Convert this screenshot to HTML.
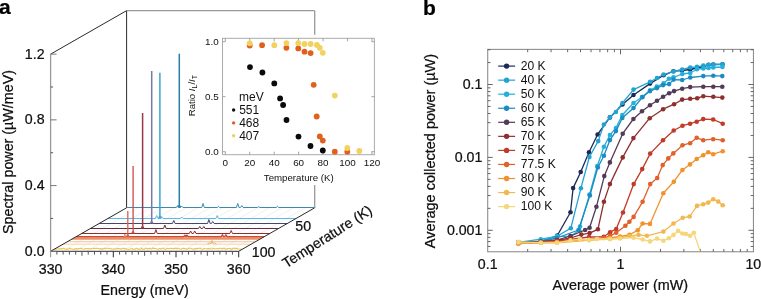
<!DOCTYPE html>
<html><head><meta charset="utf-8"><style>
html,body{margin:0;padding:0;background:#fff;}
svg{display:block;will-change:transform;}
text{font-family:"Liberation Sans",sans-serif;}
.h{stroke:#000;stroke-width:0.22px;}
</style></head><body>
<svg width="761" height="299" viewBox="0 0 761 299">
<rect width="761" height="299" fill="#fff"/>
<line x1="50.60" y1="251.30" x2="126.60" y2="207.80" stroke="#dfe6ee" stroke-width="0.6" />
<line x1="62.51" y1="251.30" x2="138.51" y2="207.80" stroke="#dfe6ee" stroke-width="0.6" />
<line x1="74.43" y1="251.30" x2="150.43" y2="207.80" stroke="#dfe6ee" stroke-width="0.6" />
<line x1="86.34" y1="251.30" x2="162.34" y2="207.80" stroke="#dfe6ee" stroke-width="0.6" />
<line x1="98.25" y1="251.30" x2="174.25" y2="207.80" stroke="#dfe6ee" stroke-width="0.6" />
<line x1="110.16" y1="251.30" x2="186.16" y2="207.80" stroke="#dfe6ee" stroke-width="0.6" />
<line x1="122.08" y1="251.30" x2="198.08" y2="207.80" stroke="#dfe6ee" stroke-width="0.6" />
<line x1="133.99" y1="251.30" x2="209.99" y2="207.80" stroke="#dfe6ee" stroke-width="0.6" />
<line x1="145.90" y1="251.30" x2="221.90" y2="207.80" stroke="#dfe6ee" stroke-width="0.6" />
<line x1="157.82" y1="251.30" x2="233.82" y2="207.80" stroke="#dfe6ee" stroke-width="0.6" />
<line x1="169.73" y1="251.30" x2="245.73" y2="207.80" stroke="#dfe6ee" stroke-width="0.6" />
<line x1="181.64" y1="251.30" x2="257.64" y2="207.80" stroke="#dfe6ee" stroke-width="0.6" />
<line x1="193.56" y1="251.30" x2="269.56" y2="207.80" stroke="#dfe6ee" stroke-width="0.6" />
<line x1="205.47" y1="251.30" x2="281.47" y2="207.80" stroke="#dfe6ee" stroke-width="0.6" />
<line x1="217.38" y1="251.30" x2="293.38" y2="207.80" stroke="#dfe6ee" stroke-width="0.6" />
<line x1="229.29" y1="251.30" x2="305.29" y2="207.80" stroke="#dfe6ee" stroke-width="0.6" />
<polyline points="127.12,207.50 176.32,207.50 177.62,205.50 178.92,207.50 180.32,207.50 181.62,206.00 182.92,207.50 201.72,207.50 203.02,203.50 204.32,207.50 217.22,207.50 218.52,206.50 219.82,207.50 236.42,207.50 237.72,203.50 239.02,207.50 240.52,207.50 241.82,205.50 243.12,207.50 257.42,207.50 258.72,206.70 260.02,207.50 276.12,207.50 277.42,206.30 278.72,207.50 315.22,207.50" fill="none" stroke="#3f88ad" stroke-width="1.0" stroke-linejoin="round" />
<path d="M178.10,207.50 L179.30,205.00 L179.30,53.70 M179.30,205.00 L180.50,207.50" fill="none" stroke="#2a7ca4" stroke-width="1.5" stroke-linejoin="round"/>
<polyline points="107.91,218.50 155.41,218.50 156.71,215.50 158.01,218.50 160.41,218.50 161.71,216.50 163.01,218.50 180.51,218.50 181.81,217.00 183.11,218.50 215.91,218.50 217.21,215.50 218.51,218.50 296.01,218.50" fill="none" stroke="#5cbae0" stroke-width="1.0" stroke-linejoin="round" />
<path d="M158.70,218.50 L159.90,216.00 L159.90,72.70 M159.90,216.00 L161.10,218.50" fill="none" stroke="#38a6d2" stroke-width="1.5" stroke-linejoin="round"/>
<polyline points="99.17,223.50 172.47,223.50 173.77,220.50 175.07,223.50 207.57,223.50 208.87,219.50 210.17,223.50 211.47,223.50 212.77,221.50 214.07,223.50 287.27,223.50" fill="none" stroke="#46466e" stroke-width="1.0" stroke-linejoin="round" />
<path d="M150.50,223.50 L151.70,221.00 L151.70,71.10 M151.70,221.00 L152.90,223.50" fill="none" stroke="#7878a0" stroke-width="1.5" stroke-linejoin="round"/>
<polyline points="90.43,228.50 163.53,228.50 164.83,225.00 166.13,228.50 198.43,228.50 199.73,226.50 201.03,228.50 202.53,228.50 203.83,226.50 205.13,228.50 278.53,228.50" fill="none" stroke="#6c2a42" stroke-width="1.0" stroke-linejoin="round" />
<path d="M141.40,228.50 L142.60,226.00 L142.60,113.00 M142.60,226.00 L143.80,228.50" fill="none" stroke="#983848" stroke-width="1.5" stroke-linejoin="round"/>
<polyline points="81.70,233.50 154.60,233.50 155.90,229.50 157.20,233.50 189.30,233.50 190.60,231.00 191.90,233.50 193.40,233.50 194.70,231.00 196.00,233.50 229.90,233.50 231.20,230.50 232.50,233.50 269.80,233.50" fill="none" stroke="#922e2e" stroke-width="1.0" stroke-linejoin="round" />
<path d="M131.90,233.50 L133.10,231.00 L133.10,166.00 M133.10,231.00 L134.30,233.50" fill="none" stroke="#d04848" stroke-width="1.3" stroke-linejoin="round"/>
<polyline points="75.93,236.80 183.63,236.80 184.93,235.30 186.23,236.80 185.63,236.80 186.93,235.30 188.23,236.80 221.13,236.80 222.43,234.80 223.73,236.80 224.63,236.80 225.93,234.80 227.23,236.80 264.03,236.80" fill="none" stroke="#d24a30" stroke-width="1.5" stroke-linejoin="round" />
<path d="M126.60,236.80 L127.80,234.30 L127.80,211.00 M127.80,234.30 L129.00,236.80" fill="none" stroke="#e06050" stroke-width="1.3" stroke-linejoin="round"/>
<polyline points="73.66,238.10 261.76,238.10" fill="none" stroke="#e06a40" stroke-width="1.4" stroke-linejoin="round" />
<path d="M123.66,238.10 L124.86,235.60 L124.86,234.10 M124.86,235.60 L126.06,238.10" fill="none" stroke="#e08060" stroke-width="1.3" stroke-linejoin="round"/>
<polyline points="71.39,239.40 259.49,239.40" fill="none" stroke="#f0a47a" stroke-width="1.0" stroke-linejoin="round" />
<polyline points="67.20,241.80 255.30,241.80" fill="none" stroke="#f2c094" stroke-width="1.1" stroke-linejoin="round" />
<polyline points="63.00,244.20 209.70,244.20 211.00,242.20 212.30,244.20 251.10,244.20" fill="none" stroke="#f4d4a6" stroke-width="1.0" stroke-linejoin="round" />
<polyline points="53.92,249.40 54.98,249.20 56.30,249.31 57.53,248.92 58.37,248.74 59.20,248.84 60.06,249.28 61.20,248.33 62.10,249.11 63.40,248.17 64.66,248.88 66.24,249.34 67.73,249.02 68.65,249.25 69.69,248.34 70.64,248.64 71.95,248.92 73.19,249.32 74.03,249.13 75.38,248.84 76.43,248.64 77.59,249.01 79.03,248.49 80.02,248.65 81.24,248.26 82.63,249.03 84.21,249.25 85.35,248.42 86.27,248.76 87.10,248.53 88.51,248.66 90.01,248.99 91.37,248.63 92.63,248.81 94.10,248.17 95.28,248.54 96.13,248.49 97.45,248.11 98.91,249.03 100.01,248.53 100.83,248.80 101.77,249.25 102.61,248.40 103.52,249.08 104.63,248.27 105.49,248.82 106.73,248.25 108.19,248.28 109.21,248.86 110.30,248.25 111.87,249.20 112.81,249.10 113.79,248.77 115.06,249.06 115.87,248.86 116.96,248.66 118.53,248.50 119.74,248.60 121.08,249.33 122.60,248.39 124.10,248.36 125.21,248.88 126.09,248.58 126.94,249.31 127.91,249.19 128.98,249.33 129.78,249.20 130.67,248.93 131.49,248.26 132.78,249.21 133.78,248.95 134.87,249.24 136.35,248.11 137.52,248.77 138.39,249.27 139.46,249.06 140.93,249.19 141.75,248.16 142.97,249.21 144.20,249.36 145.43,248.13 146.92,248.49 147.93,248.92 148.86,248.40 150.09,248.39 151.15,249.11 152.60,248.12 154.08,248.35 155.53,248.44 156.52,248.73 157.60,249.36 158.42,249.04 159.43,248.50 161.00,248.82 162.55,248.12 164.11,248.93 165.09,249.11 166.04,249.13 167.34,248.23 168.81,248.78 170.14,248.36 171.00,248.54 172.53,248.38 173.93,248.78 174.88,248.37 175.94,248.36 177.52,248.89 178.64,248.17 180.02,249.18 180.92,249.20 182.45,248.35 183.36,248.33 184.95,248.55 186.03,248.69 186.93,249.38 188.51,248.56 189.73,248.19 190.88,248.27 192.34,249.13 193.34,249.02 194.33,248.64 195.34,248.86 196.24,248.22 197.33,248.80 198.59,248.22 199.73,248.21 200.93,248.71 202.15,249.38 203.30,249.16 204.11,248.36 205.04,248.78 206.42,248.68 207.48,248.73 208.73,248.38 209.61,248.67 210.61,249.04 212.03,248.74 213.28,248.41 214.81,248.82 216.10,248.74 217.31,248.50 218.47,248.71 219.65,248.18 221.01,248.26 222.57,249.06 223.81,248.17 225.29,249.22 226.18,248.83 227.04,249.09 227.90,248.53 229.33,248.23 230.25,248.47 231.58,249.21 233.09,248.14 234.06,248.16 235.18,248.77 236.77,248.32 237.70,248.84 238.91,248.96 239.87,248.99 241.25,249.37 242.02,248.83" fill="none" stroke="#eec552" stroke-width="1.1" stroke-linejoin="round" />
<path d="M207.5,244.2 L209.5,243.2 L210.8,243.8 L212,240.6 L213.2,243.6 L214.5,242.8 L216.5,244.2" fill="none" stroke="#f0b060" stroke-width="1" stroke-linejoin="round"/>
<line x1="50.60" y1="251.30" x2="238.70" y2="251.30" stroke="#2a2a2a" stroke-width="1" />
<line x1="50.60" y1="251.30" x2="126.60" y2="207.80" stroke="#2a2a2a" stroke-width="1" />
<line x1="238.70" y1="251.30" x2="314.70" y2="207.80" stroke="#2a2a2a" stroke-width="1" />
<line x1="50.60" y1="54.14" x2="126.60" y2="10.64" stroke="#2a2a2a" stroke-width="1" />
<line x1="126.60" y1="10.64" x2="126.60" y2="207.80" stroke="#2a2a2a" stroke-width="1" />
<line x1="126.60" y1="10.64" x2="314.70" y2="10.64" stroke="#999" stroke-width="1.3" />
<line x1="314.70" y1="10.64" x2="314.70" y2="207.80" stroke="#999" stroke-width="1.3" />
<line x1="50.60" y1="54.14" x2="50.60" y2="251.80" stroke="#999" stroke-width="1.3" />
<line x1="50.60" y1="251.30" x2="56.60" y2="251.30" stroke="#777" stroke-width="1" />
<text class="h" x="44.60" y="255.90" font-size="14.2" text-anchor="end" fill="#111" >0.0</text>
<line x1="50.60" y1="218.44" x2="53.10" y2="218.44" stroke="#555" stroke-width="1" />
<line x1="50.60" y1="185.58" x2="56.60" y2="185.58" stroke="#777" stroke-width="1" />
<text class="h" x="44.60" y="190.18" font-size="14.2" text-anchor="end" fill="#111" >0.4</text>
<line x1="50.60" y1="152.72" x2="53.10" y2="152.72" stroke="#555" stroke-width="1" />
<line x1="50.60" y1="119.86" x2="56.60" y2="119.86" stroke="#777" stroke-width="1" />
<text class="h" x="44.60" y="124.46" font-size="14.2" text-anchor="end" fill="#111" >0.8</text>
<line x1="50.60" y1="87.00" x2="53.10" y2="87.00" stroke="#555" stroke-width="1" />
<line x1="50.60" y1="54.14" x2="56.60" y2="54.14" stroke="#777" stroke-width="1" />
<text class="h" x="44.60" y="58.74" font-size="14.2" text-anchor="end" fill="#111" >1.2</text>
<line x1="50.60" y1="251.30" x2="50.60" y2="257.30" stroke="#999" stroke-width="1.1" />
<line x1="56.87" y1="251.30" x2="56.87" y2="254.60" stroke="#555" stroke-width="1" />
<line x1="63.14" y1="251.30" x2="63.14" y2="254.60" stroke="#555" stroke-width="1" />
<line x1="69.41" y1="251.30" x2="69.41" y2="254.60" stroke="#555" stroke-width="1" />
<line x1="75.68" y1="251.30" x2="75.68" y2="254.60" stroke="#555" stroke-width="1" />
<line x1="81.95" y1="251.30" x2="81.95" y2="255.80" stroke="#555" stroke-width="1" />
<line x1="88.22" y1="251.30" x2="88.22" y2="254.60" stroke="#555" stroke-width="1" />
<line x1="94.49" y1="251.30" x2="94.49" y2="254.60" stroke="#555" stroke-width="1" />
<line x1="100.76" y1="251.30" x2="100.76" y2="254.60" stroke="#555" stroke-width="1" />
<line x1="107.03" y1="251.30" x2="107.03" y2="254.60" stroke="#555" stroke-width="1" />
<line x1="113.30" y1="251.30" x2="113.30" y2="257.30" stroke="#2a2a2a" stroke-width="1" />
<line x1="119.57" y1="251.30" x2="119.57" y2="254.60" stroke="#555" stroke-width="1" />
<line x1="125.84" y1="251.30" x2="125.84" y2="254.60" stroke="#555" stroke-width="1" />
<line x1="132.11" y1="251.30" x2="132.11" y2="254.60" stroke="#555" stroke-width="1" />
<line x1="138.38" y1="251.30" x2="138.38" y2="254.60" stroke="#555" stroke-width="1" />
<line x1="144.65" y1="251.30" x2="144.65" y2="255.80" stroke="#555" stroke-width="1" />
<line x1="150.92" y1="251.30" x2="150.92" y2="254.60" stroke="#555" stroke-width="1" />
<line x1="157.19" y1="251.30" x2="157.19" y2="254.60" stroke="#555" stroke-width="1" />
<line x1="163.46" y1="251.30" x2="163.46" y2="254.60" stroke="#555" stroke-width="1" />
<line x1="169.73" y1="251.30" x2="169.73" y2="254.60" stroke="#555" stroke-width="1" />
<line x1="176.00" y1="251.30" x2="176.00" y2="257.30" stroke="#2a2a2a" stroke-width="1" />
<line x1="182.27" y1="251.30" x2="182.27" y2="254.60" stroke="#555" stroke-width="1" />
<line x1="188.54" y1="251.30" x2="188.54" y2="254.60" stroke="#555" stroke-width="1" />
<line x1="194.81" y1="251.30" x2="194.81" y2="254.60" stroke="#555" stroke-width="1" />
<line x1="201.08" y1="251.30" x2="201.08" y2="254.60" stroke="#555" stroke-width="1" />
<line x1="207.35" y1="251.30" x2="207.35" y2="255.80" stroke="#555" stroke-width="1" />
<line x1="213.62" y1="251.30" x2="213.62" y2="254.60" stroke="#555" stroke-width="1" />
<line x1="219.89" y1="251.30" x2="219.89" y2="254.60" stroke="#555" stroke-width="1" />
<line x1="226.16" y1="251.30" x2="226.16" y2="254.60" stroke="#555" stroke-width="1" />
<line x1="232.43" y1="251.30" x2="232.43" y2="254.60" stroke="#555" stroke-width="1" />
<line x1="238.70" y1="251.30" x2="238.70" y2="257.30" stroke="#2a2a2a" stroke-width="1" />
<text class="h" x="50.60" y="274.40" font-size="14.2" text-anchor="middle" fill="#111" >330</text>
<text class="h" x="113.30" y="274.40" font-size="14.2" text-anchor="middle" fill="#111" >340</text>
<text class="h" x="176.00" y="274.40" font-size="14.2" text-anchor="middle" fill="#111" >350</text>
<text class="h" x="238.70" y="274.40" font-size="14.2" text-anchor="middle" fill="#111" >360</text>
<text class="h" x="144.60" y="295.40" font-size="14.3" text-anchor="middle" fill="#111" >Energy (meV)</text>
<text class="h" x="303.20" y="231.40" font-size="14.2" text-anchor="middle" fill="#111" >50</text>
<text class="h" x="263.60" y="257.40" font-size="14.2" text-anchor="middle" fill="#111" >100</text>
<text class="h" x="0" y="0" font-size="14.3" fill="#111" transform="translate(286.2,268.4) rotate(-32.5)">Temperature (K)</text>
<text class="h" x="0" y="0" font-size="14.3" fill="#111" text-anchor="middle" transform="translate(13.2,152) rotate(-90)">Spectral power (µW/meV)</text>
<text class="h" x="-1" y="14.4" font-size="21" font-weight="bold" fill="#000">a</text>
<rect x="184" y="34.8" width="196" height="150.2" fill="#fff"/>
<rect x="222.5" y="38.3" width="151.89999999999998" height="116.39999999999999" fill="#fff" stroke="#aaa" stroke-width="1"/>
<line x1="225.30" y1="154.70" x2="225.30" y2="151.70" stroke="#999" stroke-width="0.9" />
<line x1="225.30" y1="38.30" x2="225.30" y2="41.30" stroke="#999" stroke-width="0.9" />
<text x="225.30" y="165.50" font-size="9.9" text-anchor="middle" fill="#111" >0</text>
<line x1="249.74" y1="154.70" x2="249.74" y2="151.70" stroke="#999" stroke-width="0.9" />
<line x1="249.74" y1="38.30" x2="249.74" y2="41.30" stroke="#999" stroke-width="0.9" />
<text x="249.74" y="165.50" font-size="9.9" text-anchor="middle" fill="#111" >20</text>
<line x1="274.18" y1="154.70" x2="274.18" y2="151.70" stroke="#999" stroke-width="0.9" />
<line x1="274.18" y1="38.30" x2="274.18" y2="41.30" stroke="#999" stroke-width="0.9" />
<text x="274.18" y="165.50" font-size="9.9" text-anchor="middle" fill="#111" >40</text>
<line x1="298.62" y1="154.70" x2="298.62" y2="151.70" stroke="#999" stroke-width="0.9" />
<line x1="298.62" y1="38.30" x2="298.62" y2="41.30" stroke="#999" stroke-width="0.9" />
<text x="298.62" y="165.50" font-size="9.9" text-anchor="middle" fill="#111" >60</text>
<line x1="323.06" y1="154.70" x2="323.06" y2="151.70" stroke="#999" stroke-width="0.9" />
<line x1="323.06" y1="38.30" x2="323.06" y2="41.30" stroke="#999" stroke-width="0.9" />
<text x="323.06" y="165.50" font-size="9.9" text-anchor="middle" fill="#111" >80</text>
<line x1="347.50" y1="154.70" x2="347.50" y2="151.70" stroke="#999" stroke-width="0.9" />
<line x1="347.50" y1="38.30" x2="347.50" y2="41.30" stroke="#999" stroke-width="0.9" />
<text x="347.50" y="165.50" font-size="9.9" text-anchor="middle" fill="#111" >100</text>
<line x1="371.94" y1="154.70" x2="371.94" y2="151.70" stroke="#999" stroke-width="0.9" />
<line x1="371.94" y1="38.30" x2="371.94" y2="41.30" stroke="#999" stroke-width="0.9" />
<text x="371.94" y="165.50" font-size="9.9" text-anchor="middle" fill="#111" >120</text>
<line x1="222.50" y1="151.70" x2="225.50" y2="151.70" stroke="#999" stroke-width="0.9" />
<line x1="374.40" y1="151.70" x2="371.40" y2="151.70" stroke="#999" stroke-width="0.9" />
<text x="218.80" y="155.20" font-size="9.9" text-anchor="end" fill="#111" >0.0</text>
<line x1="222.50" y1="96.70" x2="225.50" y2="96.70" stroke="#999" stroke-width="0.9" />
<line x1="374.40" y1="96.70" x2="371.40" y2="96.70" stroke="#999" stroke-width="0.9" />
<text x="218.80" y="100.20" font-size="9.9" text-anchor="end" fill="#111" >0.5</text>
<line x1="222.50" y1="41.70" x2="225.50" y2="41.70" stroke="#999" stroke-width="0.9" />
<line x1="374.40" y1="41.70" x2="371.40" y2="41.70" stroke="#999" stroke-width="0.9" />
<text x="218.80" y="45.20" font-size="9.9" text-anchor="end" fill="#111" >1.0</text>
<text x="298.80" y="181.00" font-size="9.7" text-anchor="middle" fill="#111" >Temperature (K)</text>
<text x="0" y="0" font-size="9.6" fill="#111" transform="translate(195.3,116.2) rotate(-90)">Ratio <tspan font-style="italic">I</tspan><tspan font-size="7" dy="2">L</tspan><tspan dy="-2">/</tspan><tspan font-style="italic">I</tspan><tspan font-size="7" dy="2">T</tspan></text>
<text x="239.00" y="100.50" font-size="12.0" text-anchor="start" fill="#111" >meV</text>
<circle cx="233.6" cy="110.00" r="1.7" fill="#111"/>
<text x="239.20" y="114.30" font-size="12.0" text-anchor="start" fill="#111" >551</text>
<circle cx="233.6" cy="122.90" r="1.7" fill="#e0601e"/>
<text x="239.20" y="127.20" font-size="12.0" text-anchor="start" fill="#111" >468</text>
<circle cx="233.6" cy="135.80" r="1.7" fill="#f0d060"/>
<text x="239.20" y="140.10" font-size="12.0" text-anchor="start" fill="#111" >407</text>
<circle cx="249.7" cy="45.5" r="2.9" fill="#e0601e"/>
<circle cx="262.1" cy="45.2" r="2.9" fill="#e0601e"/>
<circle cx="286.4" cy="47.8" r="2.9" fill="#e0601e"/>
<circle cx="298.3" cy="48.4" r="2.9" fill="#e0601e"/>
<circle cx="304.5" cy="51.7" r="2.9" fill="#e0601e"/>
<circle cx="310.6" cy="53.1" r="2.9" fill="#e0601e"/>
<circle cx="313.7" cy="84.8" r="2.9" fill="#e0601e"/>
<circle cx="316.7" cy="116.5" r="2.9" fill="#e0601e"/>
<circle cx="319.8" cy="136.4" r="2.9" fill="#e0601e"/>
<circle cx="322.8" cy="140.6" r="2.9" fill="#e0601e"/>
<circle cx="334.8" cy="151.7" r="2.9" fill="#e0601e"/>
<circle cx="347.3" cy="151.7" r="2.9" fill="#e0601e"/>
<circle cx="249.7" cy="43.3" r="2.9" fill="#f2d15e"/>
<circle cx="274.3" cy="45.2" r="2.9" fill="#f2d15e"/>
<circle cx="286.4" cy="43.1" r="2.9" fill="#f2d15e"/>
<circle cx="298.3" cy="43.1" r="2.9" fill="#f2d15e"/>
<circle cx="304.5" cy="44" r="2.9" fill="#f2d15e"/>
<circle cx="310.6" cy="44" r="2.9" fill="#f2d15e"/>
<circle cx="316.9" cy="44.9" r="2.9" fill="#f2d15e"/>
<circle cx="319.8" cy="47.8" r="2.9" fill="#f2d15e"/>
<circle cx="322.8" cy="52.8" r="2.9" fill="#f2d15e"/>
<circle cx="334.8" cy="95.6" r="2.9" fill="#f2d15e"/>
<circle cx="347.3" cy="148" r="2.9" fill="#f2d15e"/>
<circle cx="359.3" cy="151" r="2.9" fill="#f2d15e"/>
<circle cx="250" cy="67.1" r="2.9" fill="#0a0a0a"/>
<circle cx="262.4" cy="72.5" r="2.9" fill="#0a0a0a"/>
<circle cx="274.3" cy="83.4" r="2.9" fill="#0a0a0a"/>
<circle cx="280.1" cy="98.4" r="2.9" fill="#0a0a0a"/>
<circle cx="283.1" cy="105" r="2.9" fill="#0a0a0a"/>
<circle cx="286.5" cy="120" r="2.9" fill="#0a0a0a"/>
<circle cx="298.5" cy="136.6" r="2.9" fill="#0a0a0a"/>
<circle cx="310.5" cy="146" r="2.9" fill="#0a0a0a"/>
<circle cx="322.8" cy="150.5" r="2.9" fill="#0a0a0a"/>
<text class="h" x="423.0" y="15.2" font-size="21" font-weight="bold" fill="#000">b</text>
<rect x="487.7" y="49.4" width="265.75000000000006" height="202.35" fill="none" stroke="#8f8f8f" stroke-width="1.1"/>
<line x1="527.68" y1="251.75" x2="527.68" y2="248.95" stroke="#555" stroke-width="0.9" />
<line x1="527.68" y1="49.40" x2="527.68" y2="52.20" stroke="#555" stroke-width="0.9" />
<line x1="551.06" y1="251.75" x2="551.06" y2="248.95" stroke="#555" stroke-width="0.9" />
<line x1="551.06" y1="49.40" x2="551.06" y2="52.20" stroke="#555" stroke-width="0.9" />
<line x1="567.65" y1="251.75" x2="567.65" y2="248.95" stroke="#555" stroke-width="0.9" />
<line x1="567.65" y1="49.40" x2="567.65" y2="52.20" stroke="#555" stroke-width="0.9" />
<line x1="580.52" y1="251.75" x2="580.52" y2="248.95" stroke="#555" stroke-width="0.9" />
<line x1="580.52" y1="49.40" x2="580.52" y2="52.20" stroke="#555" stroke-width="0.9" />
<line x1="591.04" y1="251.75" x2="591.04" y2="248.95" stroke="#555" stroke-width="0.9" />
<line x1="591.04" y1="49.40" x2="591.04" y2="52.20" stroke="#555" stroke-width="0.9" />
<line x1="599.93" y1="251.75" x2="599.93" y2="248.95" stroke="#555" stroke-width="0.9" />
<line x1="599.93" y1="49.40" x2="599.93" y2="52.20" stroke="#555" stroke-width="0.9" />
<line x1="607.63" y1="251.75" x2="607.63" y2="248.95" stroke="#555" stroke-width="0.9" />
<line x1="607.63" y1="49.40" x2="607.63" y2="52.20" stroke="#555" stroke-width="0.9" />
<line x1="614.42" y1="251.75" x2="614.42" y2="248.95" stroke="#555" stroke-width="0.9" />
<line x1="614.42" y1="49.40" x2="614.42" y2="52.20" stroke="#555" stroke-width="0.9" />
<line x1="620.50" y1="251.75" x2="620.50" y2="246.75" stroke="#555" stroke-width="0.9" />
<line x1="620.50" y1="49.40" x2="620.50" y2="54.40" stroke="#555" stroke-width="0.9" />
<line x1="660.48" y1="251.75" x2="660.48" y2="248.95" stroke="#555" stroke-width="0.9" />
<line x1="660.48" y1="49.40" x2="660.48" y2="52.20" stroke="#555" stroke-width="0.9" />
<line x1="683.86" y1="251.75" x2="683.86" y2="248.95" stroke="#555" stroke-width="0.9" />
<line x1="683.86" y1="49.40" x2="683.86" y2="52.20" stroke="#555" stroke-width="0.9" />
<line x1="700.45" y1="251.75" x2="700.45" y2="248.95" stroke="#555" stroke-width="0.9" />
<line x1="700.45" y1="49.40" x2="700.45" y2="52.20" stroke="#555" stroke-width="0.9" />
<line x1="713.32" y1="251.75" x2="713.32" y2="248.95" stroke="#555" stroke-width="0.9" />
<line x1="713.32" y1="49.40" x2="713.32" y2="52.20" stroke="#555" stroke-width="0.9" />
<line x1="723.84" y1="251.75" x2="723.84" y2="248.95" stroke="#555" stroke-width="0.9" />
<line x1="723.84" y1="49.40" x2="723.84" y2="52.20" stroke="#555" stroke-width="0.9" />
<line x1="732.73" y1="251.75" x2="732.73" y2="248.95" stroke="#555" stroke-width="0.9" />
<line x1="732.73" y1="49.40" x2="732.73" y2="52.20" stroke="#555" stroke-width="0.9" />
<line x1="740.43" y1="251.75" x2="740.43" y2="248.95" stroke="#555" stroke-width="0.9" />
<line x1="740.43" y1="49.40" x2="740.43" y2="52.20" stroke="#555" stroke-width="0.9" />
<line x1="747.22" y1="251.75" x2="747.22" y2="248.95" stroke="#555" stroke-width="0.9" />
<line x1="747.22" y1="49.40" x2="747.22" y2="52.20" stroke="#555" stroke-width="0.9" />
<line x1="487.70" y1="246.47" x2="490.50" y2="246.47" stroke="#555" stroke-width="0.9" />
<line x1="753.45" y1="246.47" x2="750.65" y2="246.47" stroke="#555" stroke-width="0.9" />
<line x1="487.70" y1="241.59" x2="490.50" y2="241.59" stroke="#555" stroke-width="0.9" />
<line x1="753.45" y1="241.59" x2="750.65" y2="241.59" stroke="#555" stroke-width="0.9" />
<line x1="487.70" y1="237.36" x2="490.50" y2="237.36" stroke="#555" stroke-width="0.9" />
<line x1="753.45" y1="237.36" x2="750.65" y2="237.36" stroke="#555" stroke-width="0.9" />
<line x1="487.70" y1="233.64" x2="490.50" y2="233.64" stroke="#555" stroke-width="0.9" />
<line x1="753.45" y1="233.64" x2="750.65" y2="233.64" stroke="#555" stroke-width="0.9" />
<line x1="487.70" y1="230.30" x2="492.70" y2="230.30" stroke="#555" stroke-width="0.9" />
<line x1="753.45" y1="230.30" x2="748.45" y2="230.30" stroke="#555" stroke-width="0.9" />
<line x1="487.70" y1="208.35" x2="490.50" y2="208.35" stroke="#555" stroke-width="0.9" />
<line x1="753.45" y1="208.35" x2="750.65" y2="208.35" stroke="#555" stroke-width="0.9" />
<line x1="487.70" y1="195.52" x2="490.50" y2="195.52" stroke="#555" stroke-width="0.9" />
<line x1="753.45" y1="195.52" x2="750.65" y2="195.52" stroke="#555" stroke-width="0.9" />
<line x1="487.70" y1="186.41" x2="490.50" y2="186.41" stroke="#555" stroke-width="0.9" />
<line x1="753.45" y1="186.41" x2="750.65" y2="186.41" stroke="#555" stroke-width="0.9" />
<line x1="487.70" y1="179.35" x2="490.50" y2="179.35" stroke="#555" stroke-width="0.9" />
<line x1="753.45" y1="179.35" x2="750.65" y2="179.35" stroke="#555" stroke-width="0.9" />
<line x1="487.70" y1="173.57" x2="490.50" y2="173.57" stroke="#555" stroke-width="0.9" />
<line x1="753.45" y1="173.57" x2="750.65" y2="173.57" stroke="#555" stroke-width="0.9" />
<line x1="487.70" y1="168.69" x2="490.50" y2="168.69" stroke="#555" stroke-width="0.9" />
<line x1="753.45" y1="168.69" x2="750.65" y2="168.69" stroke="#555" stroke-width="0.9" />
<line x1="487.70" y1="164.46" x2="490.50" y2="164.46" stroke="#555" stroke-width="0.9" />
<line x1="753.45" y1="164.46" x2="750.65" y2="164.46" stroke="#555" stroke-width="0.9" />
<line x1="487.70" y1="160.74" x2="490.50" y2="160.74" stroke="#555" stroke-width="0.9" />
<line x1="753.45" y1="160.74" x2="750.65" y2="160.74" stroke="#555" stroke-width="0.9" />
<line x1="487.70" y1="157.40" x2="492.70" y2="157.40" stroke="#555" stroke-width="0.9" />
<line x1="753.45" y1="157.40" x2="748.45" y2="157.40" stroke="#555" stroke-width="0.9" />
<line x1="487.70" y1="135.45" x2="490.50" y2="135.45" stroke="#555" stroke-width="0.9" />
<line x1="753.45" y1="135.45" x2="750.65" y2="135.45" stroke="#555" stroke-width="0.9" />
<line x1="487.70" y1="122.62" x2="490.50" y2="122.62" stroke="#555" stroke-width="0.9" />
<line x1="753.45" y1="122.62" x2="750.65" y2="122.62" stroke="#555" stroke-width="0.9" />
<line x1="487.70" y1="113.51" x2="490.50" y2="113.51" stroke="#555" stroke-width="0.9" />
<line x1="753.45" y1="113.51" x2="750.65" y2="113.51" stroke="#555" stroke-width="0.9" />
<line x1="487.70" y1="106.45" x2="490.50" y2="106.45" stroke="#555" stroke-width="0.9" />
<line x1="753.45" y1="106.45" x2="750.65" y2="106.45" stroke="#555" stroke-width="0.9" />
<line x1="487.70" y1="100.67" x2="490.50" y2="100.67" stroke="#555" stroke-width="0.9" />
<line x1="753.45" y1="100.67" x2="750.65" y2="100.67" stroke="#555" stroke-width="0.9" />
<line x1="487.70" y1="95.79" x2="490.50" y2="95.79" stroke="#555" stroke-width="0.9" />
<line x1="753.45" y1="95.79" x2="750.65" y2="95.79" stroke="#555" stroke-width="0.9" />
<line x1="487.70" y1="91.56" x2="490.50" y2="91.56" stroke="#555" stroke-width="0.9" />
<line x1="753.45" y1="91.56" x2="750.65" y2="91.56" stroke="#555" stroke-width="0.9" />
<line x1="487.70" y1="87.84" x2="490.50" y2="87.84" stroke="#555" stroke-width="0.9" />
<line x1="753.45" y1="87.84" x2="750.65" y2="87.84" stroke="#555" stroke-width="0.9" />
<line x1="487.70" y1="84.50" x2="492.70" y2="84.50" stroke="#555" stroke-width="0.9" />
<line x1="753.45" y1="84.50" x2="748.45" y2="84.50" stroke="#555" stroke-width="0.9" />
<line x1="487.70" y1="62.55" x2="490.50" y2="62.55" stroke="#555" stroke-width="0.9" />
<line x1="753.45" y1="62.55" x2="750.65" y2="62.55" stroke="#555" stroke-width="0.9" />
<line x1="487.70" y1="49.72" x2="490.50" y2="49.72" stroke="#555" stroke-width="0.9" />
<line x1="753.45" y1="49.72" x2="750.65" y2="49.72" stroke="#555" stroke-width="0.9" />
<text class="h" x="482.40" y="89.00" font-size="14.2" text-anchor="end" fill="#111" >0.1</text>
<text class="h" x="482.40" y="161.90" font-size="14.2" text-anchor="end" fill="#111" >0.01</text>
<text class="h" x="482.40" y="234.80" font-size="14.2" text-anchor="end" fill="#111" >0.001</text>
<text class="h" x="487.70" y="268.60" font-size="14.2" text-anchor="middle" fill="#111" >0.1</text>
<text class="h" x="620.50" y="268.60" font-size="14.2" text-anchor="middle" fill="#111" >1</text>
<text class="h" x="753.30" y="268.60" font-size="14.2" text-anchor="middle" fill="#111" >10</text>
<text class="h" x="620.30" y="289.80" font-size="14.4" text-anchor="middle" fill="#111" >Average power (mW)</text>
<text class="h" x="0" y="0" font-size="14.5" fill="#111" text-anchor="middle" transform="translate(434.6,151) rotate(-90)">Average collected power (µW)</text>
<clipPath id="cb"><rect x="487.7" y="49.4" width="265.75000000000006" height="202.35"/></clipPath>
<g clip-path="url(#cb)">
<polyline points="518.40,242.50 540.80,241.40 557.30,235.50 570.50,212.20 573.10,188.10 580.70,172.00 589.00,152.20 597.60,134.50 609.90,117.40 622.50,104.50 633.50,95.00 650.10,83.60 663.60,75.30 673.40,71.20 682.20,70.50 690.20,69.50 703.30,66.50 708.50,64.80 713.30,64.50 722.50,64.30" fill="none" stroke="#1d2a58" stroke-width="1.3" stroke-linejoin="round" />
<circle cx="518.4" cy="242.5" r="2.3" fill="#1d2a58"/>
<circle cx="540.8" cy="241.4" r="2.3" fill="#1d2a58"/>
<circle cx="557.3" cy="235.5" r="2.3" fill="#1d2a58"/>
<circle cx="570.5" cy="212.2" r="2.3" fill="#1d2a58"/>
<circle cx="573.1" cy="188.1" r="2.3" fill="#1d2a58"/>
<circle cx="580.7" cy="172" r="2.3" fill="#1d2a58"/>
<circle cx="589" cy="152.2" r="2.3" fill="#1d2a58"/>
<circle cx="597.6" cy="134.5" r="2.3" fill="#1d2a58"/>
<circle cx="609.9" cy="117.4" r="2.3" fill="#1d2a58"/>
<circle cx="622.5" cy="104.5" r="2.3" fill="#1d2a58"/>
<circle cx="633.5" cy="95" r="2.3" fill="#1d2a58"/>
<circle cx="650.1" cy="83.6" r="2.3" fill="#1d2a58"/>
<circle cx="663.6" cy="75.3" r="2.3" fill="#1d2a58"/>
<circle cx="673.4" cy="71.2" r="2.3" fill="#1d2a58"/>
<circle cx="682.2" cy="70.5" r="2.3" fill="#1d2a58"/>
<circle cx="690.2" cy="69.5" r="2.3" fill="#1d2a58"/>
<circle cx="703.3" cy="66.5" r="2.3" fill="#1d2a58"/>
<circle cx="708.5" cy="64.8" r="2.3" fill="#1d2a58"/>
<circle cx="713.3" cy="64.5" r="2.3" fill="#1d2a58"/>
<circle cx="722.5" cy="64.3" r="2.3" fill="#1d2a58"/>
<polyline points="518.40,242.40 540.80,241.20 557.00,236.30 570.80,228.30 580.90,188.20 589.40,157.00 598.20,141.10 603.90,124.50 609.90,117.40 615.90,112.00 622.50,103.00 633.50,89.60 650.10,81.80 657.00,78.00 663.60,74.50 673.40,71.50 682.20,69.50 690.20,67.50 697.00,66.80 703.30,65.60 708.50,65.00 713.30,64.50 722.50,64.30" fill="none" stroke="#22a2d3" stroke-width="1.3" stroke-linejoin="round" />
<circle cx="518.4" cy="242.4" r="2.3" fill="#22a2d3"/>
<circle cx="540.8" cy="241.2" r="2.3" fill="#22a2d3"/>
<circle cx="557" cy="236.3" r="2.3" fill="#22a2d3"/>
<circle cx="570.8" cy="228.3" r="2.3" fill="#22a2d3"/>
<circle cx="580.9" cy="188.2" r="2.3" fill="#22a2d3"/>
<circle cx="589.4" cy="157" r="2.3" fill="#22a2d3"/>
<circle cx="598.2" cy="141.1" r="2.3" fill="#22a2d3"/>
<circle cx="603.9" cy="124.5" r="2.3" fill="#22a2d3"/>
<circle cx="609.9" cy="117.4" r="2.3" fill="#22a2d3"/>
<circle cx="615.9" cy="112" r="2.3" fill="#22a2d3"/>
<circle cx="622.5" cy="103" r="2.3" fill="#22a2d3"/>
<circle cx="633.5" cy="89.6" r="2.3" fill="#22a2d3"/>
<circle cx="650.1" cy="81.8" r="2.3" fill="#22a2d3"/>
<circle cx="657" cy="78" r="2.3" fill="#22a2d3"/>
<circle cx="663.6" cy="74.5" r="2.3" fill="#22a2d3"/>
<circle cx="673.4" cy="71.5" r="2.3" fill="#22a2d3"/>
<circle cx="682.2" cy="69.5" r="2.3" fill="#22a2d3"/>
<circle cx="690.2" cy="67.5" r="2.3" fill="#22a2d3"/>
<circle cx="697" cy="66.8" r="2.3" fill="#22a2d3"/>
<circle cx="703.3" cy="65.6" r="2.3" fill="#22a2d3"/>
<circle cx="708.5" cy="65" r="2.3" fill="#22a2d3"/>
<circle cx="713.3" cy="64.5" r="2.3" fill="#22a2d3"/>
<circle cx="722.5" cy="64.3" r="2.3" fill="#22a2d3"/>
<polyline points="518.40,242.30 540.80,239.20 556.90,236.40 570.50,236.40 579.20,230.20 580.00,226.50 589.50,194.60 597.30,166.00 603.90,146.70 609.90,135.10 615.90,128.00 622.30,115.00 633.50,103.00 642.00,97.00 650.10,90.30 656.80,86.60 663.60,83.30 668.90,78.80 673.40,77.30 682.20,74.00 690.20,73.00 697.00,69.20 703.30,68.50 708.50,68.00 713.30,67.50 722.50,67.00" fill="none" stroke="#24afdc" stroke-width="1.3" stroke-linejoin="round" />
<circle cx="518.4" cy="242.3" r="2.3" fill="#24afdc"/>
<circle cx="540.8" cy="239.2" r="2.3" fill="#24afdc"/>
<circle cx="556.9" cy="236.4" r="2.3" fill="#24afdc"/>
<circle cx="570.5" cy="236.4" r="2.3" fill="#24afdc"/>
<circle cx="579.2" cy="230.2" r="2.3" fill="#24afdc"/>
<circle cx="580" cy="226.5" r="2.3" fill="#24afdc"/>
<circle cx="589.5" cy="194.6" r="2.3" fill="#24afdc"/>
<circle cx="597.3" cy="166" r="2.3" fill="#24afdc"/>
<circle cx="603.9" cy="146.7" r="2.3" fill="#24afdc"/>
<circle cx="609.9" cy="135.1" r="2.3" fill="#24afdc"/>
<circle cx="615.9" cy="128" r="2.3" fill="#24afdc"/>
<circle cx="622.3" cy="115" r="2.3" fill="#24afdc"/>
<circle cx="633.5" cy="103" r="2.3" fill="#24afdc"/>
<circle cx="642" cy="97" r="2.3" fill="#24afdc"/>
<circle cx="650.1" cy="90.3" r="2.3" fill="#24afdc"/>
<circle cx="656.8" cy="86.6" r="2.3" fill="#24afdc"/>
<circle cx="663.6" cy="83.3" r="2.3" fill="#24afdc"/>
<circle cx="668.9" cy="78.8" r="2.3" fill="#24afdc"/>
<circle cx="673.4" cy="77.3" r="2.3" fill="#24afdc"/>
<circle cx="682.2" cy="74" r="2.3" fill="#24afdc"/>
<circle cx="690.2" cy="73" r="2.3" fill="#24afdc"/>
<circle cx="697" cy="69.2" r="2.3" fill="#24afdc"/>
<circle cx="703.3" cy="68.5" r="2.3" fill="#24afdc"/>
<circle cx="708.5" cy="68" r="2.3" fill="#24afdc"/>
<circle cx="713.3" cy="67.5" r="2.3" fill="#24afdc"/>
<circle cx="722.5" cy="67" r="2.3" fill="#24afdc"/>
<polyline points="518.40,242.50 540.80,241.50 556.90,238.00 578.50,230.00 589.90,195.50 597.80,167.50 603.90,155.80 609.90,140.10 615.90,131.10 622.30,118.00 633.50,108.00 642.60,97.10 650.00,91.10 657.00,88.10 663.10,85.10 669.10,84.10 673.50,79.60 682.20,80.00 690.20,77.50 703.30,76.10 713.30,75.70 722.30,76.10" fill="none" stroke="#1b8cc3" stroke-width="1.3" stroke-linejoin="round" />
<circle cx="518.4" cy="242.5" r="2.3" fill="#1b8cc3"/>
<circle cx="540.8" cy="241.5" r="2.3" fill="#1b8cc3"/>
<circle cx="556.9" cy="238" r="2.3" fill="#1b8cc3"/>
<circle cx="578.5" cy="230" r="2.3" fill="#1b8cc3"/>
<circle cx="589.9" cy="195.5" r="2.3" fill="#1b8cc3"/>
<circle cx="597.8" cy="167.5" r="2.3" fill="#1b8cc3"/>
<circle cx="603.9" cy="155.8" r="2.3" fill="#1b8cc3"/>
<circle cx="609.9" cy="140.1" r="2.3" fill="#1b8cc3"/>
<circle cx="615.9" cy="131.1" r="2.3" fill="#1b8cc3"/>
<circle cx="622.3" cy="118" r="2.3" fill="#1b8cc3"/>
<circle cx="633.5" cy="108" r="2.3" fill="#1b8cc3"/>
<circle cx="642.6" cy="97.1" r="2.3" fill="#1b8cc3"/>
<circle cx="650" cy="91.1" r="2.3" fill="#1b8cc3"/>
<circle cx="657" cy="88.1" r="2.3" fill="#1b8cc3"/>
<circle cx="663.1" cy="85.1" r="2.3" fill="#1b8cc3"/>
<circle cx="669.1" cy="84.1" r="2.3" fill="#1b8cc3"/>
<circle cx="673.5" cy="79.6" r="2.3" fill="#1b8cc3"/>
<circle cx="682.2" cy="80" r="2.3" fill="#1b8cc3"/>
<circle cx="690.2" cy="77.5" r="2.3" fill="#1b8cc3"/>
<circle cx="703.3" cy="76.1" r="2.3" fill="#1b8cc3"/>
<circle cx="713.3" cy="75.7" r="2.3" fill="#1b8cc3"/>
<circle cx="722.3" cy="76.1" r="2.3" fill="#1b8cc3"/>
<polyline points="518.40,242.60 540.80,241.80 556.90,240.00 570.50,236.00 585.10,230.00 589.60,227.80 596.40,206.80 604.30,176.10 609.90,162.40 622.70,133.70 633.40,119.00 642.00,111.20 650.00,105.20 657.00,100.80 663.10,96.80 669.10,93.20 674.10,91.10 682.20,88.70 690.20,87.10 703.30,86.70 713.30,86.70 722.30,86.70" fill="none" stroke="#533a58" stroke-width="1.3" stroke-linejoin="round" />
<circle cx="518.4" cy="242.6" r="2.3" fill="#533a58"/>
<circle cx="540.8" cy="241.8" r="2.3" fill="#533a58"/>
<circle cx="556.9" cy="240" r="2.3" fill="#533a58"/>
<circle cx="570.5" cy="236" r="2.3" fill="#533a58"/>
<circle cx="585.1" cy="230" r="2.3" fill="#533a58"/>
<circle cx="589.6" cy="227.8" r="2.3" fill="#533a58"/>
<circle cx="596.4" cy="206.8" r="2.3" fill="#533a58"/>
<circle cx="604.3" cy="176.1" r="2.3" fill="#533a58"/>
<circle cx="609.9" cy="162.4" r="2.3" fill="#533a58"/>
<circle cx="622.7" cy="133.7" r="2.3" fill="#533a58"/>
<circle cx="633.4" cy="119" r="2.3" fill="#533a58"/>
<circle cx="642" cy="111.2" r="2.3" fill="#533a58"/>
<circle cx="650" cy="105.2" r="2.3" fill="#533a58"/>
<circle cx="657" cy="100.8" r="2.3" fill="#533a58"/>
<circle cx="663.1" cy="96.8" r="2.3" fill="#533a58"/>
<circle cx="669.1" cy="93.2" r="2.3" fill="#533a58"/>
<circle cx="674.1" cy="91.1" r="2.3" fill="#533a58"/>
<circle cx="682.2" cy="88.7" r="2.3" fill="#533a58"/>
<circle cx="690.2" cy="87.1" r="2.3" fill="#533a58"/>
<circle cx="703.3" cy="86.7" r="2.3" fill="#533a58"/>
<circle cx="713.3" cy="86.7" r="2.3" fill="#533a58"/>
<circle cx="722.3" cy="86.7" r="2.3" fill="#533a58"/>
<polyline points="518.40,242.60 540.80,241.80 556.90,240.50 570.50,238.00 581.30,234.60 589.60,233.10 597.90,229.30 603.90,201.80 609.90,184.10 622.70,157.40 633.40,138.10 649.70,118.20 663.10,109.20 674.10,104.20 682.20,99.60 690.20,98.80 697.20,98.20 703.30,96.20 713.30,96.80 722.30,97.60" fill="none" stroke="#8f2f30" stroke-width="1.3" stroke-linejoin="round" />
<circle cx="518.4" cy="242.6" r="2.3" fill="#8f2f30"/>
<circle cx="540.8" cy="241.8" r="2.3" fill="#8f2f30"/>
<circle cx="556.9" cy="240.5" r="2.3" fill="#8f2f30"/>
<circle cx="570.5" cy="238" r="2.3" fill="#8f2f30"/>
<circle cx="581.3" cy="234.6" r="2.3" fill="#8f2f30"/>
<circle cx="589.6" cy="233.1" r="2.3" fill="#8f2f30"/>
<circle cx="597.9" cy="229.3" r="2.3" fill="#8f2f30"/>
<circle cx="603.9" cy="201.8" r="2.3" fill="#8f2f30"/>
<circle cx="609.9" cy="184.1" r="2.3" fill="#8f2f30"/>
<circle cx="622.7" cy="157.4" r="2.3" fill="#8f2f30"/>
<circle cx="633.4" cy="138.1" r="2.3" fill="#8f2f30"/>
<circle cx="649.7" cy="118.2" r="2.3" fill="#8f2f30"/>
<circle cx="663.1" cy="109.2" r="2.3" fill="#8f2f30"/>
<circle cx="674.1" cy="104.2" r="2.3" fill="#8f2f30"/>
<circle cx="682.2" cy="99.6" r="2.3" fill="#8f2f30"/>
<circle cx="690.2" cy="98.8" r="2.3" fill="#8f2f30"/>
<circle cx="697.2" cy="98.2" r="2.3" fill="#8f2f30"/>
<circle cx="703.3" cy="96.2" r="2.3" fill="#8f2f30"/>
<circle cx="713.3" cy="96.8" r="2.3" fill="#8f2f30"/>
<circle cx="722.3" cy="97.6" r="2.3" fill="#8f2f30"/>
<polyline points="518.40,242.80 540.80,242.00 556.90,241.00 570.50,239.50 589.00,237.00 603.70,236.80 610.10,232.20 616.20,229.00 623.00,212.50 633.70,184.10 642.20,169.10 650.20,153.60 663.00,140.20 673.70,130.50 682.50,125.70 690.10,123.70 696.70,121.70 703.20,119.10 713.20,119.50 722.70,123.70" fill="none" stroke="#c23a2a" stroke-width="1.3" stroke-linejoin="round" />
<circle cx="518.4" cy="242.8" r="2.3" fill="#c23a2a"/>
<circle cx="540.8" cy="242.0" r="2.3" fill="#c23a2a"/>
<circle cx="556.9" cy="241" r="2.3" fill="#c23a2a"/>
<circle cx="570.5" cy="239.5" r="2.3" fill="#c23a2a"/>
<circle cx="589" cy="237" r="2.3" fill="#c23a2a"/>
<circle cx="603.7" cy="236.8" r="2.3" fill="#c23a2a"/>
<circle cx="610.1" cy="232.2" r="2.3" fill="#c23a2a"/>
<circle cx="616.2" cy="229" r="2.3" fill="#c23a2a"/>
<circle cx="623" cy="212.5" r="2.3" fill="#c23a2a"/>
<circle cx="633.7" cy="184.1" r="2.3" fill="#c23a2a"/>
<circle cx="642.2" cy="169.1" r="2.3" fill="#c23a2a"/>
<circle cx="650.2" cy="153.6" r="2.3" fill="#c23a2a"/>
<circle cx="663" cy="140.2" r="2.3" fill="#c23a2a"/>
<circle cx="673.7" cy="130.5" r="2.3" fill="#c23a2a"/>
<circle cx="682.5" cy="125.7" r="2.3" fill="#c23a2a"/>
<circle cx="690.1" cy="123.7" r="2.3" fill="#c23a2a"/>
<circle cx="696.7" cy="121.7" r="2.3" fill="#c23a2a"/>
<circle cx="703.2" cy="119.1" r="2.3" fill="#c23a2a"/>
<circle cx="713.2" cy="119.5" r="2.3" fill="#c23a2a"/>
<circle cx="722.7" cy="123.7" r="2.3" fill="#c23a2a"/>
<polyline points="518.40,243.50 540.80,242.50 556.90,242.00 589.00,239.50 603.70,238.00 610.10,235.80 616.20,232.70 625.40,225.70 629.40,221.70 633.60,216.90 642.60,201.80 650.20,184.10 657.20,178.10 662.70,165.10 668.30,158.40 673.30,153.40 682.50,145.20 690.10,143.20 696.70,137.80 703.20,140.20 713.20,139.20 722.70,140.20" fill="none" stroke="#e2602a" stroke-width="1.3" stroke-linejoin="round" />
<circle cx="518.4" cy="243.5" r="2.3" fill="#e2602a"/>
<circle cx="540.8" cy="242.5" r="2.3" fill="#e2602a"/>
<circle cx="556.9" cy="242" r="2.3" fill="#e2602a"/>
<circle cx="589" cy="239.5" r="2.3" fill="#e2602a"/>
<circle cx="603.7" cy="238" r="2.3" fill="#e2602a"/>
<circle cx="610.1" cy="235.8" r="2.3" fill="#e2602a"/>
<circle cx="616.2" cy="232.7" r="2.3" fill="#e2602a"/>
<circle cx="625.4" cy="225.7" r="2.3" fill="#e2602a"/>
<circle cx="629.4" cy="221.7" r="2.3" fill="#e2602a"/>
<circle cx="633.6" cy="216.9" r="2.3" fill="#e2602a"/>
<circle cx="642.6" cy="201.8" r="2.3" fill="#e2602a"/>
<circle cx="650.2" cy="184.1" r="2.3" fill="#e2602a"/>
<circle cx="657.2" cy="178.1" r="2.3" fill="#e2602a"/>
<circle cx="662.7" cy="165.1" r="2.3" fill="#e2602a"/>
<circle cx="668.3" cy="158.4" r="2.3" fill="#e2602a"/>
<circle cx="673.3" cy="153.4" r="2.3" fill="#e2602a"/>
<circle cx="682.5" cy="145.2" r="2.3" fill="#e2602a"/>
<circle cx="690.1" cy="143.2" r="2.3" fill="#e2602a"/>
<circle cx="696.7" cy="137.8" r="2.3" fill="#e2602a"/>
<circle cx="703.2" cy="140.2" r="2.3" fill="#e2602a"/>
<circle cx="713.2" cy="139.2" r="2.3" fill="#e2602a"/>
<circle cx="722.7" cy="140.2" r="2.3" fill="#e2602a"/>
<polyline points="518.40,243.70 540.80,242.70 556.90,242.00 589.00,240.00 610.00,238.00 620.00,236.50 629.40,234.90 637.70,230.30 642.60,223.50 650.00,223.90 663.30,193.20 673.80,181.70 682.40,170.00 690.00,164.40 696.70,159.00 703.20,155.20 708.20,152.20 713.20,154.20 722.70,151.20" fill="none" stroke="#f0922e" stroke-width="1.3" stroke-linejoin="round" />
<circle cx="518.4" cy="243.7" r="2.3" fill="#f0922e"/>
<circle cx="540.8" cy="242.7" r="2.3" fill="#f0922e"/>
<circle cx="556.9" cy="242" r="2.3" fill="#f0922e"/>
<circle cx="589" cy="240" r="2.3" fill="#f0922e"/>
<circle cx="610" cy="238" r="2.3" fill="#f0922e"/>
<circle cx="620" cy="236.5" r="2.3" fill="#f0922e"/>
<circle cx="629.4" cy="234.9" r="2.3" fill="#f0922e"/>
<circle cx="637.7" cy="230.3" r="2.3" fill="#f0922e"/>
<circle cx="642.6" cy="223.5" r="2.3" fill="#f0922e"/>
<circle cx="650" cy="223.9" r="2.3" fill="#f0922e"/>
<circle cx="663.3" cy="193.2" r="2.3" fill="#f0922e"/>
<circle cx="673.8" cy="181.7" r="2.3" fill="#f0922e"/>
<circle cx="682.4" cy="170" r="2.3" fill="#f0922e"/>
<circle cx="690" cy="164.4" r="2.3" fill="#f0922e"/>
<circle cx="696.7" cy="159" r="2.3" fill="#f0922e"/>
<circle cx="703.2" cy="155.2" r="2.3" fill="#f0922e"/>
<circle cx="708.2" cy="152.2" r="2.3" fill="#f0922e"/>
<circle cx="713.2" cy="154.2" r="2.3" fill="#f0922e"/>
<circle cx="722.7" cy="151.2" r="2.3" fill="#f0922e"/>
<polyline points="518.40,242.80 540.80,242.90 556.90,242.80 589.00,240.00 610.00,239.00 620.00,238.00 629.40,236.00 638.60,234.90 646.90,235.80 663.40,231.60 673.50,223.50 682.70,217.80 689.70,216.50 697.00,205.90 703.20,204.20 708.20,202.60 713.20,199.20 718.20,201.60 722.70,205.20" fill="none" stroke="#f2b850" stroke-width="1.3" stroke-linejoin="round" />
<circle cx="518.4" cy="242.8" r="2.3" fill="#f2b850"/>
<circle cx="540.8" cy="242.9" r="2.3" fill="#f2b850"/>
<circle cx="556.9" cy="242.8" r="2.3" fill="#f2b850"/>
<circle cx="589" cy="240" r="2.3" fill="#f2b850"/>
<circle cx="610" cy="239" r="2.3" fill="#f2b850"/>
<circle cx="620" cy="238" r="2.3" fill="#f2b850"/>
<circle cx="629.4" cy="236" r="2.3" fill="#f2b850"/>
<circle cx="638.6" cy="234.9" r="2.3" fill="#f2b850"/>
<circle cx="646.9" cy="235.8" r="2.3" fill="#f2b850"/>
<circle cx="663.4" cy="231.6" r="2.3" fill="#f2b850"/>
<circle cx="673.5" cy="223.5" r="2.3" fill="#f2b850"/>
<circle cx="682.7" cy="217.8" r="2.3" fill="#f2b850"/>
<circle cx="689.7" cy="216.5" r="2.3" fill="#f2b850"/>
<circle cx="697" cy="205.9" r="2.3" fill="#f2b850"/>
<circle cx="703.2" cy="204.2" r="2.3" fill="#f2b850"/>
<circle cx="708.2" cy="202.6" r="2.3" fill="#f2b850"/>
<circle cx="713.2" cy="199.2" r="2.3" fill="#f2b850"/>
<circle cx="718.2" cy="201.6" r="2.3" fill="#f2b850"/>
<circle cx="722.7" cy="205.2" r="2.3" fill="#f2b850"/>
<polyline points="518.40,241.90 540.80,242.70 556.90,242.80 570.50,240.40 579.90,239.10 589.00,240.00 597.00,239.00 610.00,239.00 620.00,238.50 633.60,237.70 642.60,239.50 650.00,241.40 657.00,238.60 663.40,240.80 668.90,238.20 673.50,234.90 678.10,230.90 682.40,233.50 686.00,234.00 690.10,235.80 693.80,232.70 700.20,251.50" fill="none" stroke="#f5d77b" stroke-width="1.3" stroke-linejoin="round" />
<circle cx="518.4" cy="241.9" r="2.3" fill="#f5d77b"/>
<circle cx="540.8" cy="242.7" r="2.3" fill="#f5d77b"/>
<circle cx="556.9" cy="242.8" r="2.3" fill="#f5d77b"/>
<circle cx="570.5" cy="240.4" r="2.3" fill="#f5d77b"/>
<circle cx="579.9" cy="239.1" r="2.3" fill="#f5d77b"/>
<circle cx="589" cy="240" r="2.3" fill="#f5d77b"/>
<circle cx="597" cy="239" r="2.3" fill="#f5d77b"/>
<circle cx="610" cy="239" r="2.3" fill="#f5d77b"/>
<circle cx="620" cy="238.5" r="2.3" fill="#f5d77b"/>
<circle cx="633.6" cy="237.7" r="2.3" fill="#f5d77b"/>
<circle cx="642.6" cy="239.5" r="2.3" fill="#f5d77b"/>
<circle cx="650" cy="241.4" r="2.3" fill="#f5d77b"/>
<circle cx="657" cy="238.6" r="2.3" fill="#f5d77b"/>
<circle cx="663.4" cy="240.8" r="2.3" fill="#f5d77b"/>
<circle cx="668.9" cy="238.2" r="2.3" fill="#f5d77b"/>
<circle cx="673.5" cy="234.9" r="2.3" fill="#f5d77b"/>
<circle cx="678.1" cy="230.9" r="2.3" fill="#f5d77b"/>
<circle cx="682.4" cy="233.5" r="2.3" fill="#f5d77b"/>
<circle cx="686" cy="234" r="2.3" fill="#f5d77b"/>
<circle cx="690.1" cy="235.8" r="2.3" fill="#f5d77b"/>
<circle cx="693.8" cy="232.7" r="2.3" fill="#f5d77b"/>
</g>
<line x1="498.20" y1="66.10" x2="515.10" y2="66.10" stroke="#1d2a58" stroke-width="1.2" />
<circle cx="506.6" cy="66.10" r="2.7" fill="#1d2a58"/>
<text x="520.80" y="69.95" font-size="12.1" text-anchor="start" fill="#111" >20 K</text>
<line x1="498.20" y1="80.15" x2="515.10" y2="80.15" stroke="#22a2d3" stroke-width="1.2" />
<circle cx="506.6" cy="80.15" r="2.7" fill="#22a2d3"/>
<text x="520.80" y="84.00" font-size="12.1" text-anchor="start" fill="#111" >40 K</text>
<line x1="498.20" y1="94.20" x2="515.10" y2="94.20" stroke="#24afdc" stroke-width="1.2" />
<circle cx="506.6" cy="94.20" r="2.7" fill="#24afdc"/>
<text x="520.80" y="98.05" font-size="12.1" text-anchor="start" fill="#111" >50 K</text>
<line x1="498.20" y1="108.25" x2="515.10" y2="108.25" stroke="#1b8cc3" stroke-width="1.2" />
<circle cx="506.6" cy="108.25" r="2.7" fill="#1b8cc3"/>
<text x="520.80" y="112.10" font-size="12.1" text-anchor="start" fill="#111" >60 K</text>
<line x1="498.20" y1="122.30" x2="515.10" y2="122.30" stroke="#533a58" stroke-width="1.2" />
<circle cx="506.6" cy="122.30" r="2.7" fill="#533a58"/>
<text x="520.80" y="126.15" font-size="12.1" text-anchor="start" fill="#111" >65 K</text>
<line x1="498.20" y1="136.35" x2="515.10" y2="136.35" stroke="#8f2f30" stroke-width="1.2" />
<circle cx="506.6" cy="136.35" r="2.7" fill="#8f2f30"/>
<text x="520.80" y="140.20" font-size="12.1" text-anchor="start" fill="#111" >70 K</text>
<line x1="498.20" y1="150.40" x2="515.10" y2="150.40" stroke="#c23a2a" stroke-width="1.2" />
<circle cx="506.6" cy="150.40" r="2.7" fill="#c23a2a"/>
<text x="520.80" y="154.25" font-size="12.1" text-anchor="start" fill="#111" >75 K</text>
<line x1="498.20" y1="164.45" x2="515.10" y2="164.45" stroke="#e2602a" stroke-width="1.2" />
<circle cx="506.6" cy="164.45" r="2.7" fill="#e2602a"/>
<text x="520.80" y="168.30" font-size="12.1" text-anchor="start" fill="#111" >77.5 K</text>
<line x1="498.20" y1="178.50" x2="515.10" y2="178.50" stroke="#f0922e" stroke-width="1.2" />
<circle cx="506.6" cy="178.50" r="2.7" fill="#f0922e"/>
<text x="520.80" y="182.35" font-size="12.1" text-anchor="start" fill="#111" >80 K</text>
<line x1="498.20" y1="192.55" x2="515.10" y2="192.55" stroke="#f2b850" stroke-width="1.2" />
<circle cx="506.6" cy="192.55" r="2.7" fill="#f2b850"/>
<text x="520.80" y="196.40" font-size="12.1" text-anchor="start" fill="#111" >90 K</text>
<line x1="498.20" y1="206.60" x2="515.10" y2="206.60" stroke="#f5d77b" stroke-width="1.2" />
<circle cx="506.6" cy="206.60" r="2.7" fill="#f5d77b"/>
<text x="520.80" y="210.45" font-size="12.1" text-anchor="start" fill="#111" >100 K</text>
</svg></body></html>
